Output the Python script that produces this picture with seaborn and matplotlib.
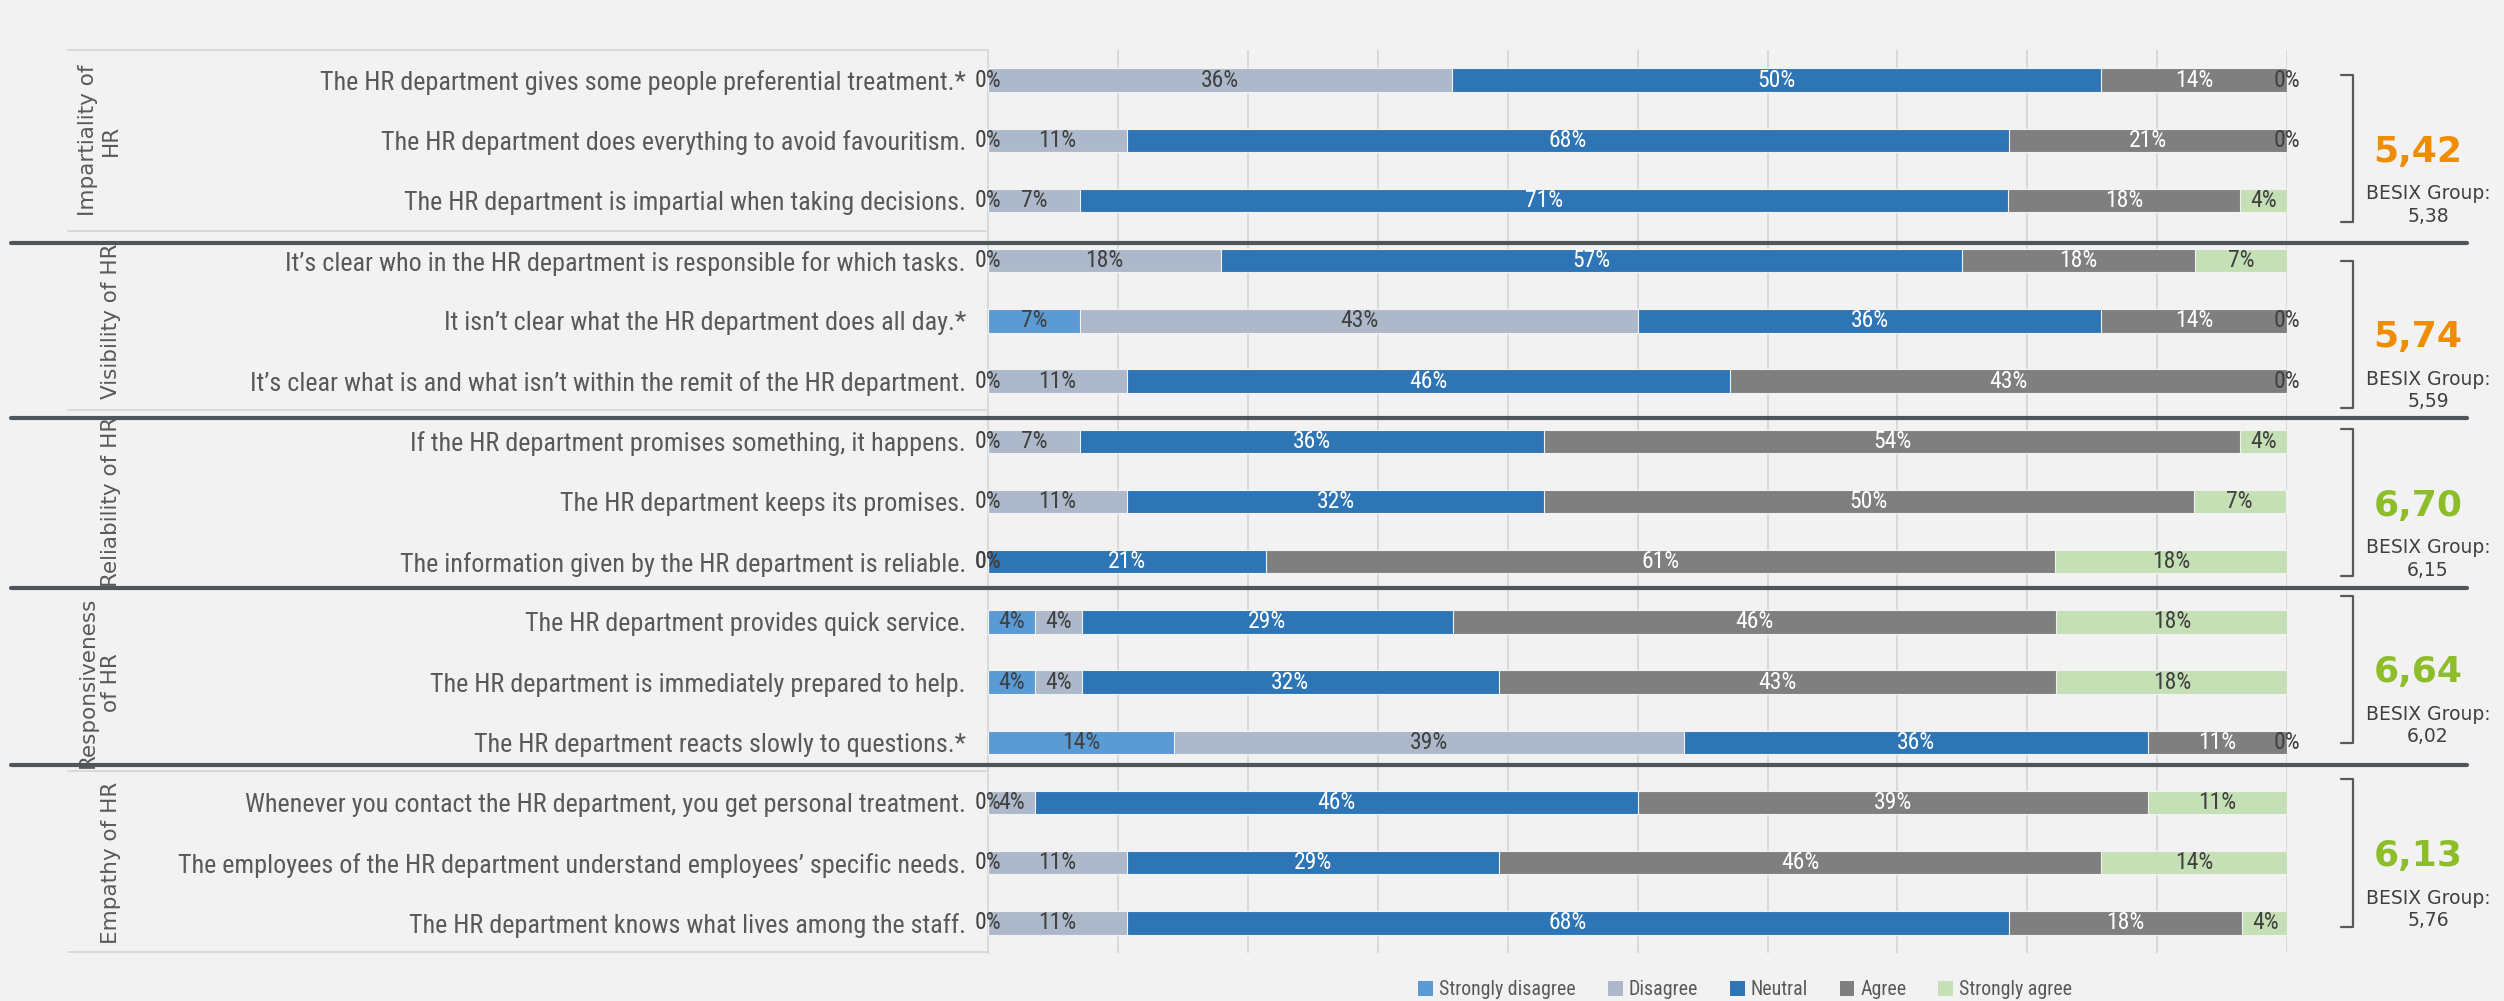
import matplotlib
matplotlib.use("Agg")
import matplotlib.pyplot as plt
import matplotlib.transforms as mtransforms
from matplotlib import font_manager as fm
from matplotlib.lines import Line2D
from matplotlib.patches import Patch
import numpy as np
import pandas as pd
import seaborn as sns

# ---- data -------------------------------------------------------------
questions = [
    "The HR department gives some people preferential treatment.*",
    "The HR department does everything to avoid favouritism.",
    "The HR department is impartial when taking decisions.",
    "It\u2019s clear who in the HR department is responsible for which tasks.",
    "It isn\u2019t clear what the HR department does all day.*",
    "It\u2019s clear what is and what isn\u2019t within the remit of the HR department.",
    "If the HR department promises something, it happens.",
    "The HR department keeps its promises.",
    "The information given by the HR department is reliable.",
    "The HR department provides quick service.",
    "The HR department is immediately prepared to help.",
    "The HR department reacts slowly to questions.*",
    "Whenever you contact the HR department, you get personal treatment.",
    "The employees of the HR department understand employees\u2019 specific needs.",
    "The HR department knows what lives among the staff.",
]

answers = ["Strongly disagree", "Disagree", "Neutral", "Agree", "Strongly agree"]

strongly_disagree = [0.0, 0.0, 0.0, 0.0, 7.1, 0.0, 0.0, 0.0, 0.0, 3.6, 3.6, 14.3, 0.0, 0.0, 0.0]
disagree = [35.7, 10.7, 7.1, 17.9, 42.9, 10.7, 7.1, 10.7, 0.0, 3.6, 3.6, 39.3, 3.6, 10.7, 10.7]
neutral = [50.0, 67.9, 71.4, 57.1, 35.7, 46.4, 35.7, 32.1, 21.4, 28.6, 32.1, 35.7, 46.4, 28.6, 67.9]
agree = [14.3, 21.4, 17.9, 17.9, 14.3, 42.9, 53.6, 50.0, 60.7, 46.4, 42.9, 10.7, 39.3, 46.4, 17.9]
strongly_agree = [0.0, 0.0, 3.6, 7.1, 0.0, 0.0, 3.6, 7.1, 17.9, 17.9, 17.9, 0.0, 10.7, 14.3, 3.6]

groups = ["Impartiality of\nHR", "Visibility of HR", "Reliability of HR",
          "Responsiveness\nof HR", "Empathy of HR"]
group_scores = ["5,42", "5,74", "6,70", "6,64", "6,13"]
group_benchmarks = ["5,38", "5,59", "6,15", "6,02", "5,76"]

# ---- styling ----------------------------------------------------------
BG = "#F2F2F2"
colors = ["#5B9BD5", "#ADB9CA", "#2E75B6", "#7F7F7F", "#C5E0B4"]
label_colors = ["#404040", "#404040", "white", "white", "#404040"]
score_colors = ["#F08C00", "#F08C00", "#8DBE2A", "#8DBE2A", "#8DBE2A"]
TEXT = "#595959"


def narrow_font():
    """Pick a condensed sans face if one is installed."""
    names = {f.name for f in fm.fontManager.ttflist}
    for n in ["Liberation Sans Narrow", "Roboto Condensed", "Open Sans Condensed",
              "DejaVu Sans Condensed"]:
        if n in names:
            return dict(family=[n, "DejaVu Sans"], stretch="normal"), 1.0
    for f in fm.fontManager.ttflist:
        if f.name == "DejaVu Sans" and "Condensed" in f.fname:
            return dict(family=["DejaVu Sans"], stretch="condensed"), 1.0
    return dict(family=["Liberation Sans", "DejaVu Sans"], stretch="normal"), 0.93


NARROW, NSCALE = narrow_font()

sns.set_theme(style="white")
plt.rcParams["font.family"] = ["DejaVu Sans"]

df = pd.DataFrame({"question": questions})
series = [strongly_disagree, disagree, neutral, agree, strongly_agree]
for name, vals in zip(answers, series):
    df[name] = vals
cum = df[answers].cumsum(axis=1)
cum["question"] = questions

fig = plt.figure(figsize=(25.04, 10.01), dpi=100, facecolor=BG)
ax = fig.add_axes([0.3946, 0.0480, 0.5188, 0.9020])
ax.set_facecolor(BG)

# stacked bars: draw cumulative totals from the outermost segment inwards
bar_w = 0.39
for name, col in reversed(list(zip(answers, colors))):
    sns.barplot(data=cum, x=name, y="question", order=questions, color=col,
                width=bar_w, orient="y", edgecolor=BG, linewidth=0.8,
                saturation=1, ax=ax, zorder=3)

ax.set_xlim(0, 100)
ax.set_ylim(len(questions) - 0.5, -0.5)
ax.set_xlabel("")
ax.set_ylabel("")
ax.set_xticks(np.arange(0, 101, 10))
ax.set_xticklabels([])
ax.tick_params(axis="x", length=0)
ax.grid(axis="x", color="#D9D9D9", linewidth=1.4, zorder=0)
ax.set_axisbelow(True)
for s in ["top", "right", "bottom"]:
    ax.spines[s].set_visible(False)
ax.spines["left"].set_color("#D9D9D9")
ax.spines["left"].set_linewidth(1.4)
ax.tick_params(axis="y", length=0, pad=16)
for lab in ax.get_yticklabels():
    lab.set_fontfamily(NARROW["family"])
    lab.set_fontstretch(NARROW["stretch"])
    lab.set_fontsize(18.8 * NSCALE)
    lab.set_color(TEXT)

# percentage labels in each segment
for i in range(len(questions)):
    left = 0.0
    for j, name in enumerate(answers):
        v = df.loc[i, name]
        ax.text(left + v / 2, i, f"{v:.0f}%", ha="center", va="center",
                fontsize=17 * NSCALE, family=NARROW["family"], fontstretch=NARROW["stretch"],
                color=label_colors[j] if v > 0 else "#404040", zorder=5)
        left += v

# figure-x / data-y blended transform for decorations outside the plot
tr = mtransforms.blended_transform_factory(fig.transFigure, ax.transData)
px = lambda p: p / 2504.0

# light category-axis borders on the left
for yb in [-0.5, 2.51, 5.48, 11.48, 14.48]:
    ax.add_line(Line2D([px(68), px(988)], [yb, yb], transform=tr, color="#D9D9D9",
                       linewidth=1.4, clip_on=False, zorder=1))

# group labels
group_centers = [1, 4, 7, 10, 13]
for g, yc in zip(groups, group_centers):
    ax.text(px(121), yc, g, transform=tr, rotation=90, ha="right", va="center",
            multialignment="center", fontsize=15.5, color=TEXT, zorder=2)

# dark separators between groups
for yl in [2.7, 5.62, 8.44, 11.38]:
    ax.add_line(Line2D([px(11), px(2467)], [yl, yl], transform=tr, color="#50555B",
                       linewidth=3.0, clip_on=False, zorder=6))

# brackets with group scores
bracket_spans = [(-0.08, 2.36), (3.0, 5.45), (5.8, 8.24), (8.57, 11.01), (11.61, 14.07)]
for (top, bot), sc, bm, scol in zip(bracket_spans, group_scores, group_benchmarks, score_colors):
    ax.add_line(Line2D([px(2341), px(2353), px(2353), px(2341)], [top, top, bot, bot],
                       transform=tr, color="#595959", linewidth=1.6, clip_on=False))
    mid = (top + bot) / 2
    ax.text(px(2418), mid + 0.05, sc, transform=tr, ha="center", va="center",
            fontsize=26, fontweight="bold", color=scol)
    ax.text(px(2428), mid + 0.75, "BESIX Group:", transform=tr, ha="center", va="center",
            fontsize=13.5, color="#404040")
    ax.text(px(2428), mid + 1.12, bm, transform=tr, ha="center", va="center",
            fontsize=13.5, color="#404040")

# legend
handles = [Patch(facecolor=c, edgecolor="none", label=a) for a, c in zip(answers, colors)]
fig.legend(handles=handles, loc="center", bbox_to_anchor=(0.697, 0.011), ncol=5,
           frameon=False,
           prop={"family": NARROW["family"], "stretch": NARROW["stretch"], "size": 14.3 * NSCALE},
           labelcolor=TEXT, handlelength=0.75, handleheight=0.75, handletextpad=0.3,
           columnspacing=1.6, borderaxespad=0)

fig.savefig("out.png", dpi=100, facecolor=BG)
